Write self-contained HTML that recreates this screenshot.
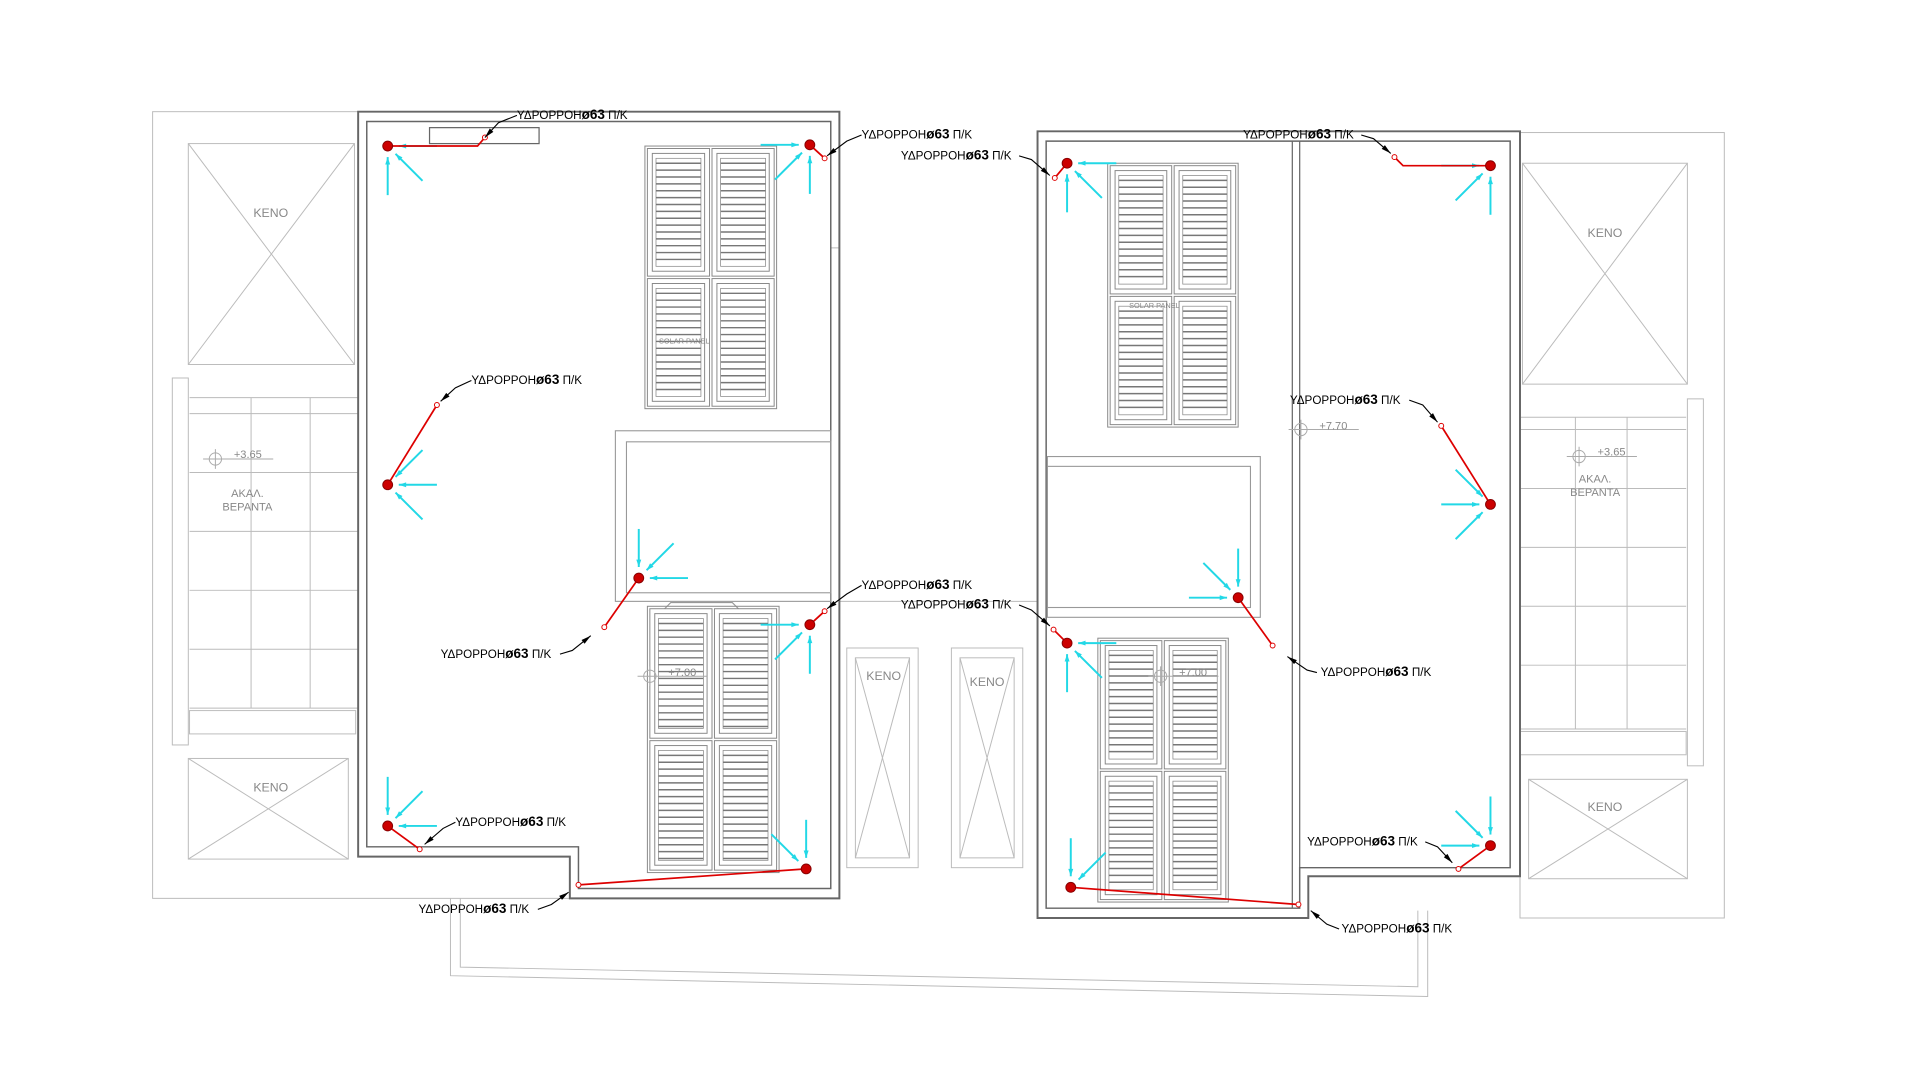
<!DOCTYPE html>
<html><head><meta charset="utf-8"><style>
html,body{margin:0;padding:0;background:#fff;width:1920px;height:1080px;overflow:hidden}
svg{display:block}
text{font-family:"Liberation Sans","DejaVu Sans",sans-serif}
.lb{font-size:9.5px;fill:#000}
.lb tspan.b{font-weight:bold;font-size:11px}
.gt{font-size:9px;fill:#888}
</style></head><body>
<svg id="s" width="1920" height="1080" viewBox="0 0 1560 880" preserveAspectRatio="none" xmlns="http://www.w3.org/2000/svg">
<g fill="none" stroke="#bbb" stroke-width="0.8">
 <!-- left outer light -->
 <rect x="124" y="91" width="558" height="641"/>
 <rect x="153" y="117" width="135" height="180"/><path d="M153 117L288 297M288 117L153 297"/>
 <rect x="153" y="618" width="130" height="82"/><path d="M153 618L283 700M283 618L153 700"/>
 <rect x="140" y="308" width="13" height="299"/>
 <path d="M154 324H291M154 337H291M154 385H291M154 433H291M154 481H291M154 529H291M154 577H291M204 324V577M252 324V577"/>
 <rect x="154" y="579" width="135" height="19"/>
 <rect x="688" y="528" width="58" height="179"/><rect x="695" y="536" width="44" height="163"/><path d="M695 536L739 699M739 536L695 699"/>
 <rect x="773" y="528" width="58" height="179"/><rect x="780" y="536" width="44" height="163"/><path d="M780 536L824 699M824 536L780 699"/>
 <path d="M366 732V795L1160 812V742M374 732V788L1152 804V742"/>
 <path d="M682 202H675M682 490H843"/>
 <!-- right outer light -->
 <rect x="1235" y="108" width="166" height="640"/>
 <rect x="1237" y="133" width="134" height="180"/><path d="M1237 133L1371 313M1371 133L1237 313"/>
 <rect x="1242" y="635" width="129" height="81"/><path d="M1242 635L1371 716M1371 635L1242 716"/>
 <rect x="1371" y="325" width="13" height="299"/>
 <path d="M1235 340H1370M1235 350H1370M1235 398H1370M1235 446H1370M1235 494H1370M1235 542H1370M1235 594H1370M1280 340V594M1322 340V594"/>
 <rect x="1235" y="596" width="135" height="19"/>
</g>
<g fill="none" stroke="#666" stroke-width="1.6">
 <path d="M291 91H682V732H463V698H291Z"/>
 <path d="M298 99H675V724H470V690H298Z" stroke-width="1.2"/>
 <rect x="349" y="104" width="89" height="13" stroke-width="1"/>
 <path d="M843 107H1235V714H1063V748H843Z"/>
 <path d="M850 115H1227V707H1056V740H850Z" stroke-width="1.2"/>
 <path d="M1050 115V740M1056 115V707" stroke-width="1"/>
</g>
<g fill="none" stroke="#999" stroke-width="0.9">
 <rect x="500" y="351" width="175" height="139"/><rect x="509" y="360" width="166" height="123"/>
 <rect x="851" y="372" width="173" height="131"/><rect x="851" y="380" width="165" height="115"/>
 <path d="M540 496L545 491H595L600 496"/>
</g>
<g id="panels" fill="none" stroke="#888" stroke-width="0.8"></g>
<g fill="none" stroke="#aaa" stroke-width="0.8">
 <circle cx="175" cy="374" r="5"/><path d="M165 374H222M175 366V382"/>
 <circle cx="1283" cy="372" r="5"/><path d="M1273 372H1330M1283 364V380"/>
 <circle cx="1057" cy="350" r="5"/><path d="M1047 350H1104M1057 342V358"/>
 <circle cx="528" cy="551" r="5"/><path d="M518 551H575M528 543V559"/>
 <circle cx="943" cy="551" r="5"/><path d="M933 551H990M943 543V559"/>
</g>
<g class="gt">
 <text x="220" y="177" text-anchor="middle" font-size="10">KENO</text>
 <text x="220" y="645" text-anchor="middle" font-size="10">KENO</text>
 <text x="1304" y="193" text-anchor="middle" font-size="10">KENO</text>
 <text x="1304" y="661" text-anchor="middle" font-size="10">KENO</text>
 <text x="718" y="554" text-anchor="middle" font-size="10">KENO</text>
 <text x="802" y="559" text-anchor="middle" font-size="10">KENO</text>
 <text x="190" y="373">+3.65</text><text x="1298" y="371">+3.65</text>
 <text x="1072" y="350">+7.70</text><text x="543" y="551">+7.00</text><text x="958" y="551">+7.00</text>
 <text x="201" y="405" text-anchor="middle">ΑΚΑΛ.</text><text x="201" y="416" text-anchor="middle">ΒΕΡΑΝΤΑ</text>
 <text x="1296" y="393" text-anchor="middle">ΑΚΑΛ.</text><text x="1296" y="404" text-anchor="middle">ΒΕΡΑΝΤΑ</text>
 <text x="556" y="280" text-anchor="middle" font-size="6">SOLAR PANEL</text>
 <text x="938" y="251" text-anchor="middle" font-size="6">SOLAR PANEL</text>
</g>
<g id="arrows" stroke="#22d8e6" stroke-width="1.6" fill="#22d8e6"></g>
<g id="drains"></g>
<g class="lb">
 <text x="420" y="97">ΥΔΡΟΡΡΟΗ<tspan class="b">ø63</tspan>  Π/Κ</text>
 <text x="700" y="113">ΥΔΡΟΡΡΟΗ<tspan class="b">ø63</tspan>  Π/Κ</text>
 <text x="383" y="313">ΥΔΡΟΡΡΟΗ<tspan class="b">ø63</tspan>  Π/Κ</text>
 <text x="358" y="536">ΥΔΡΟΡΡΟΗ<tspan class="b">ø63</tspan>  Π/Κ</text>
 <text x="700" y="480">ΥΔΡΟΡΡΟΗ<tspan class="b">ø63</tspan>  Π/Κ</text>
 <text x="370" y="673">ΥΔΡΟΡΡΟΗ<tspan class="b">ø63</tspan>  Π/Κ</text>
 <text x="340" y="744">ΥΔΡΟΡΡΟΗ<tspan class="b">ø63</tspan>  Π/Κ</text>
 <text x="732" y="130">ΥΔΡΟΡΡΟΗ<tspan class="b">ø63</tspan>  Π/Κ</text>
 <text x="1010" y="113">ΥΔΡΟΡΡΟΗ<tspan class="b">ø63</tspan>  Π/Κ</text>
 <text x="1048" y="329">ΥΔΡΟΡΡΟΗ<tspan class="b">ø63</tspan>  Π/Κ</text>
 <text x="1073" y="551">ΥΔΡΟΡΡΟΗ<tspan class="b">ø63</tspan>  Π/Κ</text>
 <text x="732" y="496">ΥΔΡΟΡΡΟΗ<tspan class="b">ø63</tspan>  Π/Κ</text>
 <text x="1062" y="689">ΥΔΡΟΡΡΟΗ<tspan class="b">ø63</tspan>  Π/Κ</text>
 <text x="1090" y="760">ΥΔΡΟΡΡΟΗ<tspan class="b">ø63</tspan>  Π/Κ</text>
</g>
</svg>
<script>
var NS="http://www.w3.org/2000/svg";
function el(p,t,a){var e=document.createElementNS(NS,t);for(var k in a)e.setAttribute(k,a[k]);p.appendChild(e);return e;}
var P=document.getElementById("panels");
function panel(x,y,w,h){el(P,"rect",{x:x,y:y,width:w,height:h});el(P,"rect",{x:x+4,y:y+4,width:w-8,height:h-8});
 var ix=x+7,iw=w-14;el(P,"rect",{x:ix,y:y+8,width:iw,height:h-16,"stroke-width":0.6});
 for(var yy=y+12;yy<y+h-9;yy+=5.6)el(P,"line",{x1:ix,y1:yy,x2:ix+iw,y2:yy,"stroke-width":1.2,stroke:"#777"});}
function group(x,y,w,h){el(P,"rect",{x:x,y:y,width:w,height:h});var cw=w/2,ch=h/2;
 panel(x+2,y+2,cw-3,ch-3);panel(x+cw+1,y+2,cw-3,ch-3);panel(x+2,y+ch+1,cw-3,ch-3);panel(x+cw+1,y+ch+1,cw-3,ch-3);}
group(524,119,107,214);group(526,494,107,217);group(900,133,106,215);group(892,520,106,215);
var A=document.getElementById("arrows"),D=document.getElementById("drains");
var d=[
[315,119,[0,45,90],[[388,119],[394,112]],[394,112,405,100,420,94]],
[658,118,[180,135,90],[[670,129]],[672,127,688,115,700,110]],
[315,395,[0,45,-45],[[355,330]],[358,327,370,316,383,310]],
[519,471,[0,-45,-90],[[491,511]],[480,518,465,530,455,533]],
[658,509,[180,135,90],[[670,498]],[672,496,688,484,700,477]],
[315,673,[0,-45,-90],[[341,692]],[345,688,360,675,370,670]],
[655,708,[-90,-135],[[470,721]],[462,727,448,737,437,741]],
[867,133,[0,45,90],[[857,145]],[853,143,838,130,828,127]],
[1211,135,[180,135,90],[[1140,135],[1133,128]],[1130,125,1116,113,1106,110]],
[1211,411,[180,-135,135],[[1171,347]],[1168,344,1156,330,1145,326]],
[1006,487,[180,-135,-90],[[1034,526]],[1046,535,1062,546,1070,548]],
[867,524,[0,45,90],[[856,513]],[853,510,838,497,828,493]],
[1211,689,[180,-135,-90],[[1185,708]],[1180,703,1168,690,1158,686]],
[870,723,[-90,-45],[[1055,737]],[1065,742,1078,753,1088,757]]];
d.forEach(function(q){var x=q[0],y=q[1];
 q[2].forEach(function(an){var r=an*Math.PI/180,c=Math.cos(r),s=Math.sin(r);
  var x1=x+c*40,y1=y+s*40,x2=x+c*9,y2=y+s*9;
  el(A,"line",{x1:x1,y1:y1,x2:x2,y2:y2});
  var px=-s,py=c;el(A,"polygon",{points:x2+","+y2+" "+(x2+c*6+px*2)+","+(y2+s*6+py*2)+" "+(x2+c*6-px*2)+","+(y2+s*6-py*2),stroke:"none"});});
 var pts=x+","+y;q[3].forEach(function(p){pts+=" "+p[0]+","+p[1];});
 el(D,"polyline",{points:pts,fill:"none",stroke:"#d00", "stroke-width":1.4});
 var e=q[3][q[3].length-1];el(D,"circle",{cx:e[0],cy:e[1],r:2,fill:"#fff",stroke:"#d00","stroke-width":0.8});
 el(D,"circle",{cx:x,cy:y,r:4,fill:"#c00",stroke:"#800","stroke-width":0.8});
 var L=q[4];el(D,"polyline",{points:L[0]+","+L[1]+" "+L[2]+","+L[3]+" "+L[4]+","+L[5],fill:"none",stroke:"#000","stroke-width":0.9});
 var dx=L[2]-L[0],dy=L[3]-L[1],m=Math.hypot(dx,dy);dx/=m;dy/=m;
 el(D,"polygon",{points:L[0]+","+L[1]+" "+(L[0]+dx*8-dy*2)+","+(L[1]+dy*8+dx*2)+" "+(L[0]+dx*8+dy*2)+","+(L[1]+dy*8-dx*2),fill:"#000"});
});
</script>
</body></html>
